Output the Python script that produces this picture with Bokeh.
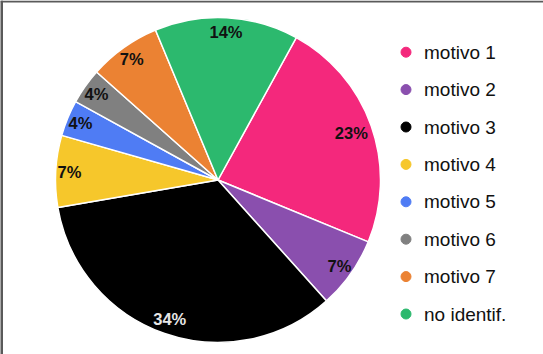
import numpy as np
from bokeh.plotting import figure
from bokeh.models import Range1d, ColumnDataSource, Span
from bokeh.core.properties import value
from bokeh.embed import file_html
from bokeh.resources import INLINE

categories = ["motivo 1", "motivo 2", "motivo 3", "motivo 4", "motivo 5", "motivo 6", "motivo 7", "no identif."]
counts = [13, 4, 19, 4, 2, 2, 4, 8]
colors = ["#f4287c", "#8a4fae", "#000000", "#f6c72b", "#4f7cf4", "#808080", "#eb8233", "#2cb96e"]
label_colors = ["#111111", "#111111", "#e6e6e6", "#111111", "#111111", "#111111", "#111111", "#111111"]

W, H = 543, 354
cx, cy, R = 217.5, H - 179.5, 162.5
start_offset_deg = 28.8  # clockwise from 12 o'clock

vals = np.array(counts, dtype=float)
frac = vals / vals.sum()
cum = np.concatenate([[0], np.cumsum(frac)])
theta_start = np.radians(start_offset_deg) + cum[:-1] * 2 * np.pi
theta_end = np.radians(start_offset_deg) + cum[1:] * 2 * np.pi
start_angle = np.pi / 2 - theta_start
end_angle = np.pi / 2 - theta_end
mid = (start_angle + end_angle) / 2
pct = [f"{round(f * 100):.0f}%" for f in frac]
rfac = np.where(frac > 0.2, 0.87, 0.915)
rfac = np.where(frac > 0.3, 0.905, rfac)

src = ColumnDataSource(dict(
    x=[cx] * len(counts), y=[cy] * len(counts),
    sa=start_angle, ea=end_angle, color=colors,
    lx=cx + rfac * R * np.cos(mid), ly=cy + rfac * R * np.sin(mid),
    pct=pct, lc=label_colors,
))

p = figure(width=W, height=H, x_range=Range1d(0, W), y_range=Range1d(0, H),
           output_backend="svg", toolbar_location=None, min_border=0)
p.axis.visible = False
p.grid.visible = False
p.outline_line_color = None
p.background_fill_color = "white"
p.border_fill_color = "white"

p.wedge(x="x", y="y", radius=R, start_angle="sa", end_angle="ea", direction="clock",
        fill_color="color", line_color="white", line_width=1.5, source=src)
p.text(x="lx", y="ly", text="pct", text_color="lc", text_font=value("Liberation Sans"),
       text_font_style="bold", text_font_size="16.5px", text_align="center",
       text_baseline="middle", source=src)

# legend
n = len(categories)
leg_y = H - (51.7 + 37.4 * np.arange(n))
leg_src = ColumnDataSource(dict(x=[405.5] * n, y=leg_y, tx=[423.5] * n, c=colors, t=categories))
p.scatter(x="x", y="y", size=10, marker="circle", fill_color="c", line_color="c", source=leg_src)
p.text(x="tx", y="y", text="t", text_font=value("Liberation Sans"), text_font_size="19px",
       text_color="#111111", text_baseline="middle", source=leg_src)

# frame lines (top and left)
p.add_layout(Span(location=H - 1, dimension="width", line_color="#5a5a5a", line_width=2))
p.add_layout(Span(location=1, dimension="height", line_color="#5a5a5a", line_width=3))

open("out.html", "w").write(file_html(p, INLINE))
